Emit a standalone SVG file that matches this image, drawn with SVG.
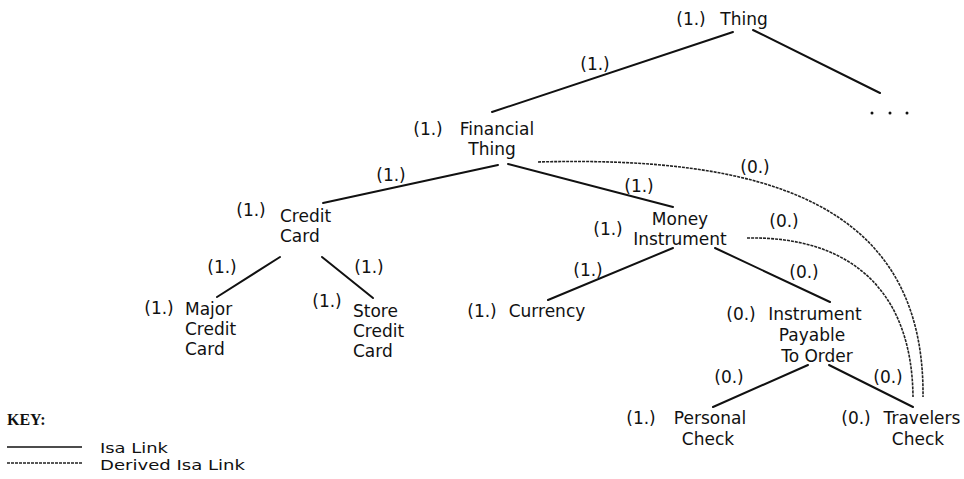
<svg xmlns="http://www.w3.org/2000/svg" width="964" height="479" viewBox="0 0 964 479">
  <style>
    text { font-family: "DejaVu Sans", "Liberation Sans", sans-serif; font-size: 17px; fill: #111; }
    .m { text-anchor: middle; }
    .key-title { font-family: "Liberation Serif", serif; font-weight: bold; font-size: 16px; }
    .key-text { font-size: 14px; }
    .isa { stroke: #111; stroke-width: 2; fill: none; stroke-linecap: round; }
    .derived { stroke: #222; stroke-width: 1.6; fill: none; stroke-dasharray: 3 1; }
  </style>
  <rect width="964" height="479" fill="#ffffff"/>

  <!-- links and their weights -->
  <g id="connectors">
    <line class="isa" x1="733" y1="32" x2="492" y2="112"/>
    <line class="isa" x1="753" y1="30" x2="880" y2="93"/>
    <line class="isa" x1="498" y1="165" x2="323" y2="203"/>
    <line class="isa" x1="508" y1="164" x2="673" y2="207"/>
    <line class="isa" x1="280" y1="257" x2="217" y2="297"/>
    <line class="isa" x1="322" y1="257" x2="373" y2="298"/>
    <line class="isa" x1="673" y1="248" x2="548" y2="300"/>
    <line class="isa" x1="715" y1="248" x2="830" y2="302"/>
    <line class="isa" x1="808" y1="365" x2="713" y2="407"/>
    <line class="isa" x1="829" y1="365" x2="913" y2="407"/>
    <path class="derived" d="M538,162 C760,156 925,200 923,397"/>
    <path class="derived" d="M747,238 C850,236 912,290 913,397"/>
    <text class="m" x="595" y="70">(1.)</text>
    <text class="m" x="391" y="181">(1.)</text>
    <text class="m" x="639" y="192">(1.)</text>
    <text class="m" x="222" y="273">(1.)</text>
    <text class="m" x="369" y="273">(1.)</text>
    <text class="m" x="588" y="276">(1.)</text>
    <text class="m" x="804" y="278">(0.)</text>
    <text class="m" x="755" y="173">(0.)</text>
    <text class="m" x="784" y="227">(0.)</text>
    <text class="m" x="729" y="383">(0.)</text>
    <text class="m" x="888" y="383">(0.)</text>
  </g>

  <g id="thing">
    <text class="m" x="691" y="25">(1.)</text>
    <text class="m" x="744" y="25">Thing</text>
  </g>
  <g id="more">
    <circle cx="872" cy="113" r="1.5" fill="#111"/>
    <circle cx="890" cy="113" r="1.5" fill="#111"/>
    <circle cx="907" cy="113" r="1.5" fill="#111"/>
  </g>
  <g id="financial-thing">
    <text class="m" x="428" y="135">(1.)</text>
    <text class="m" x="497" y="135">Financial</text>
    <text class="m" x="492" y="155">Thing</text>
  </g>
  <g id="credit-card">
    <text class="m" x="251" y="216">(1.)</text>
    <text x="280" y="222">Credit</text>
    <text x="280" y="242">Card</text>
  </g>
  <g id="major-credit-card">
    <text class="m" x="159" y="314">(1.)</text>
    <text x="185" y="315">Major</text>
    <text x="185" y="335">Credit</text>
    <text x="185" y="355">Card</text>
  </g>
  <g id="store-credit-card">
    <text class="m" x="327" y="307">(1.)</text>
    <text x="353" y="317">Store</text>
    <text x="353" y="337">Credit</text>
    <text x="353" y="357">Card</text>
  </g>
  <g id="money-instrument">
    <text class="m" x="608" y="235">(1.)</text>
    <text class="m" x="680" y="225">Money</text>
    <text class="m" x="680" y="245">Instrument</text>
  </g>
  <g id="currency">
    <text class="m" x="482" y="317">(1.)</text>
    <text class="m" x="547" y="317">Currency</text>
  </g>
  <g id="instrument-payable">
    <text class="m" x="741" y="320">(0.)</text>
    <text class="m" x="815" y="320">Instrument</text>
    <text class="m" x="812" y="341">Payable</text>
    <text class="m" x="817" y="362">To Order</text>
  </g>
  <g id="personal-check">
    <text class="m" x="641" y="424">(1.)</text>
    <text class="m" x="710" y="424">Personal</text>
    <text class="m" x="708" y="445">Check</text>
  </g>
  <g id="travelers-check">
    <text class="m" x="856" y="424">(0.)</text>
    <text class="m" x="922" y="424">Travelers</text>
    <text class="m" x="918" y="445">Check</text>
  </g>

  <g id="key">
    <text class="key-title" x="7" y="425">KEY:</text>
    <line x1="7" y1="447" x2="82" y2="447" stroke="#111" stroke-width="1.5"/>
    <line x1="7" y1="463" x2="82" y2="463" stroke="#222" stroke-width="1.3" stroke-dasharray="3 1"/>
    <text class="key-text" x="100" y="453" textLength="68" lengthAdjust="spacingAndGlyphs">Isa Link</text>
    <text class="key-text" x="100" y="470" textLength="145" lengthAdjust="spacingAndGlyphs">Derived Isa Link</text>
  </g>
</svg>
